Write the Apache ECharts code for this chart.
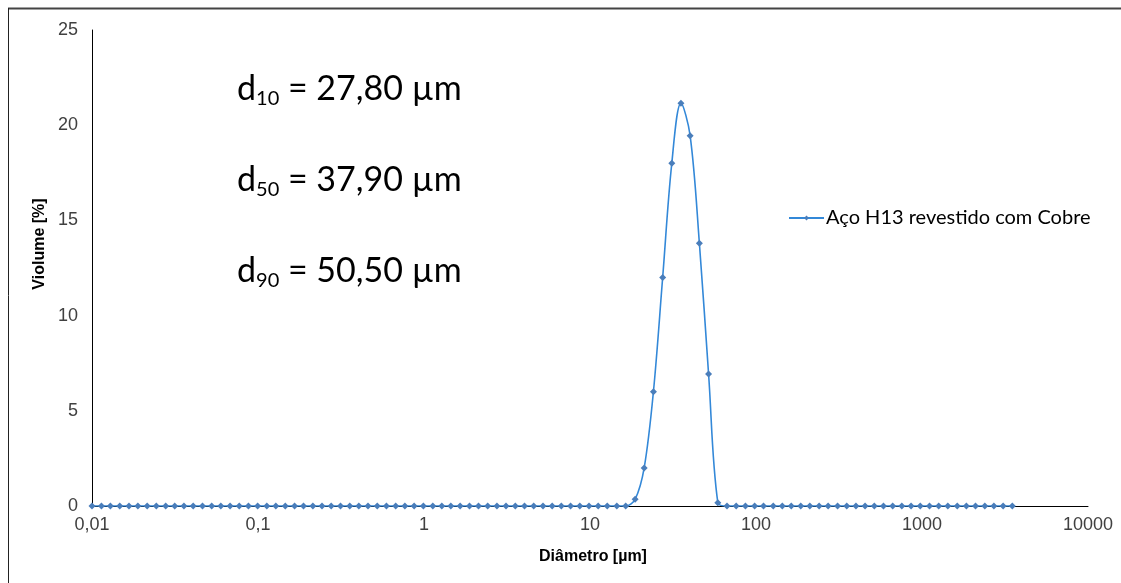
<!DOCTYPE html>
<html>
<head>
<meta charset="utf-8">
<script src="https://cdn.jsdelivr.net/npm/echarts@6/dist/echarts.min.js"></script>
<style>
  html, body { margin: 0; padding: 0; background: #fff; }
  #chart { width: 1121px; height: 583px; }
</style>
</head>
<body>
<div id="chart"></div>
<script>
// Particle size classes (µm), log spaced from 0.01 to 3500
const sizes = [
  0.0100, 0.0114, 0.0129, 0.0147, 0.0167, 0.0189, 0.0215, 0.0244, 0.0278, 0.0315,
  0.0358, 0.0407, 0.0463, 0.0526, 0.0597, 0.0679, 0.0771, 0.0876, 0.0995, 0.113,
  0.128, 0.146, 0.166, 0.188, 0.214, 0.243, 0.276, 0.314, 0.357, 0.405,
  0.460, 0.523, 0.594, 0.675, 0.767, 0.872, 0.991, 1.13, 1.28, 1.45,
  1.65, 1.88, 2.13, 2.42, 2.75, 3.12, 3.55, 4.03, 4.58, 5.21,
  5.92, 6.72, 7.64, 8.68, 9.86, 11.2, 12.7, 14.5, 16.4, 18.7,
  21.2, 24.1, 27.4, 31.1, 35.3, 40.1, 45.6, 51.8, 58.9, 66.9,
  76.0, 86.4, 98.1, 111, 127, 144, 163, 186, 211, 240,
  272, 310, 352, 400, 454, 516, 586, 666, 756, 859,
  976, 1110, 1260, 1430, 1630, 1850, 2100, 2390, 2710, 3080,
  3500
];

// Volume fraction (%) in each size class
const volume = [
  0, 0, 0, 0, 0, 0, 0, 0, 0, 0,
  0, 0, 0, 0, 0, 0, 0, 0, 0, 0,
  0, 0, 0, 0, 0, 0, 0, 0, 0, 0,
  0, 0, 0, 0, 0, 0, 0, 0, 0, 0,
  0, 0, 0, 0, 0, 0, 0, 0, 0, 0,
  0, 0, 0, 0, 0, 0, 0, 0, 0, 0.35,
  2.0, 6.0, 12.0, 18.0, 21.15, 19.45, 13.8, 6.93, 0.17, 0,
  0, 0, 0, 0, 0, 0, 0, 0, 0, 0,
  0, 0, 0, 0, 0, 0, 0, 0, 0, 0,
  0, 0, 0, 0, 0, 0, 0, 0, 0, 0,
  0
];

const seriesName = 'Aço H13 revestido com Cobre';
const xTitle = 'Diâmetro [µm]';
const yTitle = 'Violume [%]';
const percentiles = [
  { sub: '10', text: ' = 27,80 µm' },
  { sub: '50', text: ' = 37,90 µm' },
  { sub: '90', text: ' = 50,50 µm' }
];

const tickFont = 'Liberation Sans, Arial, sans-serif';
const bodyFont = 'Lato, "Open Sans", sans-serif';

const chart = echarts.init(document.getElementById('chart'), null, { renderer: 'canvas' });

const annotationText = percentiles.map((p, i) => ({
  type: 'text',
  left: 237,
  top: 72 + i * 91,
  style: {
    text: '{d|d}{s|' + p.sub + '}{d|' + p.text + '}',
    rich: {
      d: { fontFamily: bodyFont, fontSize: 34, lineHeight: 40, verticalAlign: 'middle', fill: '#000' },
      s: { fontFamily: bodyFont, fontSize: 20, lineHeight: 24, verticalAlign: 'bottom', fill: '#000' }
    }
  }
}));

chart.setOption({
  animation: false,
  grid: { left: 92, right: 33, top: 30, bottom: 77 },
  xAxis: {
    type: 'log',
    logBase: 10,
    min: 0.01,
    max: 10000,
    axisLine: { show: true, onZero: false, lineStyle: { color: '#000', width: 1 } },
    axisTick: { show: false },
    splitLine: { show: false },
    minorTick: { show: false },
    axisLabel: {
      margin: 10,
      fontFamily: tickFont,
      fontSize: 18,
      color: '#404040',
      formatter: v => String(v).replace('.', ',')
    }
  },
  yAxis: {
    type: 'value',
    min: 0,
    max: 25,
    interval: 5,
    axisLine: { show: true, lineStyle: { color: '#000', width: 1 } },
    axisTick: { show: false },
    splitLine: { show: false },
    axisLabel: {
      margin: 14,
      fontFamily: tickFont,
      fontSize: 18,
      color: '#404040'
    }
  },
  legend: {
    left: 783,
    top: 203,
    itemWidth: 35,
    itemHeight: 6,
    textStyle: { fontFamily: bodyFont, fontSize: 20, color: '#000', padding: [0, 0, 0, -3] },
    data: [seriesName]
  },
  series: [{
    name: seriesName,
    type: 'line',
    data: sizes.map((s, i) => [s, volume[i]]),
    smooth: 0.35,
    symbol: 'diamond',
    symbolSize: 7,
    showAllSymbol: true,
    lineStyle: { color: '#3388d8', width: 1.6 },
    itemStyle: { color: '#4a7ebb' }
  }],
  graphic: [
    // frame lines along the top and left edges
    { type: 'line', shape: { x1: 8, y1: 8.5, x2: 1121, y2: 8.5 }, style: { stroke: '#444', lineWidth: 2 } },
    { type: 'line', shape: { x1: 8.5, y1: 8, x2: 8.5, y2: 583 }, style: { stroke: '#222', lineWidth: 1 } },
    {
      type: 'text',
      x: 593,
      y: 557,
      style: {
        text: xTitle, fontFamily: tickFont, fontWeight: 'bold', fontSize: 16, fill: '#000',
        align: 'center', verticalAlign: 'middle'
      }
    },
    {
      type: 'text',
      x: 40,
      y: 244,
      rotation: Math.PI / 2,
      style: {
        text: yTitle, fontFamily: tickFont, fontWeight: 'bold', fontSize: 16, fill: '#000',
        align: 'center', verticalAlign: 'middle'
      }
    }
  ].concat(annotationText)
});
</script>
</body>
</html>
